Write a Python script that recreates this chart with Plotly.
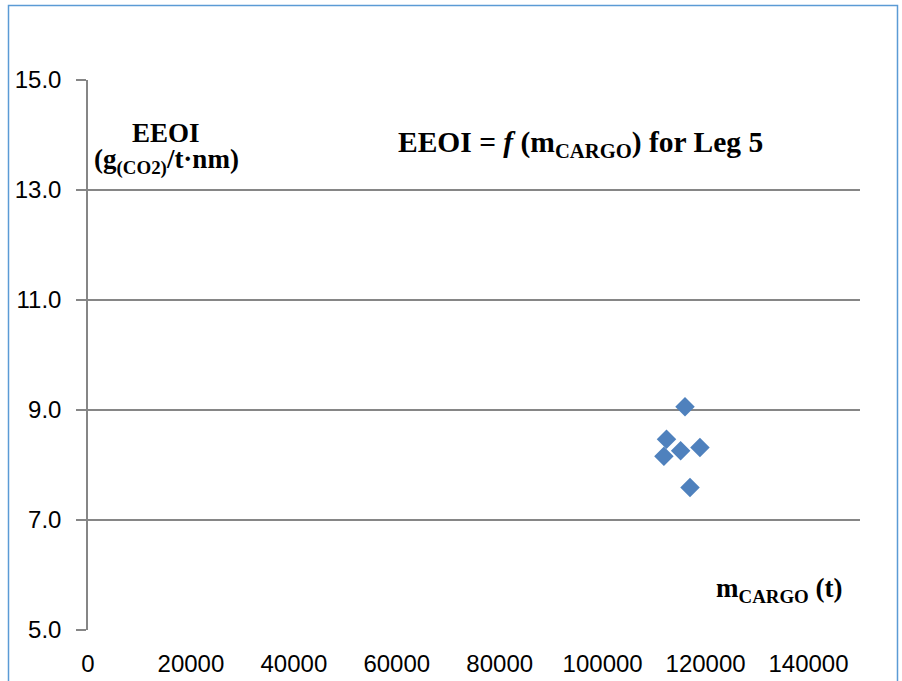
import plotly.graph_objects as go

m_cargo = [116000, 112400, 111900, 115150, 118900, 116970]
eeoi = [9.06, 8.47, 8.16, 8.26, 8.32, 7.59]

x_ticks = [0, 20000, 40000, 60000, 80000, 100000, 120000, 140000]
y_ticks = [5, 7, 9, 11, 13, 15]

W, H = 902, 681
L, R, T, B = 88, 42, 80, 51
pw, ph = W - L - R, H - T - B

def px_x(p):
    return (p - L) / pw

def px_y(p):
    return 1 - (p - T) / ph

fig = go.Figure()
fig.add_trace(go.Scatter(
    x=m_cargo, y=eeoi, mode="markers",
    marker=dict(symbol="diamond", size=15, color="#4F81BD",
                line=dict(width=0)),
    showlegend=False,
))

grid = "#868686"
tickfont = dict(family="Liberation Sans", size=24, color="#000000")
fig.update_layout(
    width=W, height=H,
    margin=dict(l=L, r=R, t=T, b=B, autoexpand=False),
    paper_bgcolor="white", plot_bgcolor="white",
    xaxis=dict(range=[0, 150000], tickvals=x_ticks,
               ticktext=[str(v) for v in x_ticks],
               showgrid=False, zeroline=False, showline=False,
               ticks="", tickfont=tickfont, ticklabelstandoff=17,
               automargin=False),
    yaxis=dict(range=[5, 15], tickvals=y_ticks,
               ticktext=["%.1f" % v for v in y_ticks],
               showgrid=True, gridcolor=grid, gridwidth=2,
               zeroline=False, showline=True, linecolor=grid, linewidth=1.5,
               ticks="outside", ticklen=10, tickcolor=grid, tickwidth=2,
               tickfont=tickfont, ticklabelstandoff=10, automargin=False),
)

serif = "Liberation Serif"
annos = [
    dict(text="<b>EEOI</b>", x=px_x(166), y=px_y(133), size=27),
    dict(text="<b>(g<sub>(CO2)</sub>/t·nm)</b>", x=px_x(166), y=px_y(162), size=27),
    dict(text="<b>EEOI = <i>f</i> (m<sub>CARGO</sub>) for Leg 5</b>", x=px_x(580), y=px_y(144), size=29.5),
    dict(text="<b>m<sub>CARGO</sub> (t)</b>", x=px_x(779), y=px_y(590), size=27),
]
for a in annos:
    fig.add_annotation(text=a["text"], x=a["x"], y=a["y"], xref="paper", yref="paper",
                       showarrow=False, xanchor="center", yanchor="middle",
                       font=dict(family=serif, size=a["size"], color="#000000"))

# chart area border (partially visible)
border = "#5B9BD5"
fig.add_shape(type="path", xref="paper", yref="paper",
              path="M %f %f L %f %f L %f %f L %f %f" % (
                  px_x(8.5), px_y(H + 5), px_x(8.5), px_y(5.5),
                  px_x(897.5), px_y(5.5), px_x(897.5), px_y(H + 5)),
              line=dict(color=border, width=1.5))

fig.write_html("out.html")
